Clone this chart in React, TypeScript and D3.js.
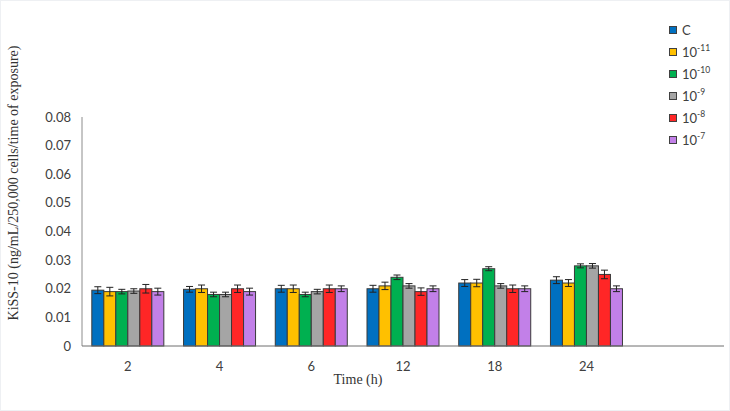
import React, { useEffect, useRef } from 'react';
import * as d3 from 'd3';

const times = ['2', '4', '6', '12', '18', '24', ''];
const groups = ['C', '-11', '-10', '-9', '-8', '-7'];
const colors = ['#0070C0', '#FFC000', '#00B050', '#A5A5A5', '#FF2626', '#C280E8'];

// mean per time point, one row per group
const means = [
  [0.0195, 0.0198, 0.0200, 0.0200, 0.0220, 0.0230],
  [0.0190, 0.0200, 0.0200, 0.0210, 0.0220, 0.0220],
  [0.0190, 0.0180, 0.0180, 0.0240, 0.0270, 0.0280],
  [0.0192, 0.0180, 0.0190, 0.0210, 0.0210, 0.0280],
  [0.0200, 0.0200, 0.0200, 0.0190, 0.0200, 0.0250],
  [0.0190, 0.0190, 0.0200, 0.0200, 0.0200, 0.0200],
];
const errors = [
  [0.0012, 0.0010, 0.0012, 0.0012, 0.0012, 0.0012],
  [0.0015, 0.0013, 0.0013, 0.0013, 0.0013, 0.0012],
  [0.0008, 0.0008, 0.0008, 0.0008, 0.0007, 0.0007],
  [0.0008, 0.0008, 0.0008, 0.0008, 0.0008, 0.0008],
  [0.0015, 0.0013, 0.0013, 0.0013, 0.0013, 0.0015],
  [0.0012, 0.0012, 0.0010, 0.0010, 0.0010, 0.0010],
];
const yTicks = [0, 0.01, 0.02, 0.03, 0.04, 0.05, 0.06, 0.07, 0.08];

const W = 730;
const H = 411;

export default function App() {
  const svgRef = useRef<SVGSVGElement>(null);

  useEffect(() => {
    document.body.style.margin = '0';
    if (!svgRef.current) return;
    const svg = d3.select(svgRef.current);
    svg.selectAll('*').remove();

    const left = 82, right = 724, top = 117, bottom = 346;
    const x0 = d3.scaleBand().domain(times.map((t, i) => i + ':' + t)).range([left, right]).paddingInner(0.215).paddingOuter(0.107);
    const x1 = d3.scaleBand().domain(groups).range([0, x0.bandwidth()]);
    const y = d3.scaleLinear().domain([0, 0.08]).range([bottom, top]);
    const font = 'Lato, "Noto Sans", sans-serif';
    const serif = '"Liberation Serif", "DejaVu Serif", serif';

    svg.append('rect').attr('width', W).attr('height', H).attr('fill', '#fff')
      .attr('stroke', '#eef0f3').attr('stroke-width', 2);

    // y tick labels
    svg.append('g').selectAll('text').data(yTicks).join('text')
      .attr('x', 71).attr('y', d => y(d)).attr('dy', '0.35em')
      .attr('text-anchor', 'end').attr('font-family', font).attr('font-size', 13)
      .attr('fill', '#404040').text(d => d === 0 ? '0' : d.toFixed(2));

    // bars
    const keys = x0.domain();
    groups.forEach((g, gi) => {
      const rows = means[gi].map((v, ti) => ({ v, e: errors[gi][ti], k: keys[ti] }));
      const gEl = svg.append('g');
      gEl.selectAll('rect').data(rows).join('rect')
        .attr('x', d => (x0(d.k) as number) + (x1(g) as number))
        .attr('y', d => y(d.v))
        .attr('width', x1.bandwidth())
        .attr('height', d => bottom - y(d.v))
        .attr('fill', colors[gi]).attr('stroke', '#3a3a3a').attr('stroke-width', 1);
      const eb = gEl.append('g').attr('stroke', '#222').attr('stroke-width', 1);
      rows.forEach(d => {
        const cx = (x0(d.k) as number) + (x1(g) as number) + x1.bandwidth() / 2;
        eb.append('line').attr('x1', cx).attr('x2', cx).attr('y1', y(d.v - d.e)).attr('y2', y(d.v + d.e));
        eb.append('line').attr('x1', cx - 3.5).attr('x2', cx + 3.5).attr('y1', y(d.v - d.e)).attr('y2', y(d.v - d.e));
        eb.append('line').attr('x1', cx - 3.5).attr('x2', cx + 3.5).attr('y1', y(d.v + d.e)).attr('y2', y(d.v + d.e));
      });
    });

    // axes lines
    svg.append('line').attr('x1', left).attr('x2', left).attr('y1', top).attr('y2', bottom)
      .attr('stroke', '#8c8c8c').attr('stroke-width', 1);
    svg.append('line').attr('x1', left).attr('x2', right).attr('y1', bottom).attr('y2', bottom)
      .attr('stroke', '#6e6e6e').attr('stroke-width', 1);

    // x tick labels
    svg.append('g').selectAll('text').data(keys).join('text')
      .attr('x', d => (x0(d) as number) + x0.bandwidth() / 2).attr('y', 366).attr('dy', '0.35em')
      .attr('text-anchor', 'middle').attr('font-family', font).attr('font-size', 13)
      .attr('fill', '#404040').text(d => d.split(':')[1]);

    // axis titles
    svg.append('text').attr('x', 358).attr('y', 384).attr('text-anchor', 'middle')
      .attr('font-family', serif).attr('font-size', 14).attr('fill', '#333').text('Time (h)');
    svg.append('text').attr('transform', 'translate(18,183) rotate(-90)').attr('text-anchor', 'middle')
      .attr('font-family', serif).attr('font-size', 14).attr('fill', '#333')
      .text('KiSS-10 (ng/mL/250,000 cells/time of exposure)');

    // legend
    const lg = svg.append('g');
    groups.forEach((g, i) => {
      const cy = 30 + i * 22;
      lg.append('rect').attr('x', 669.5).attr('y', cy - 3.5).attr('width', 7).attr('height', 7)
        .attr('fill', colors[i]).attr('stroke', '#404040').attr('stroke-width', 1);
      const t = lg.append('text').attr('x', 682).attr('y', cy).attr('dy', '0.4em')
        .attr('font-family', font).attr('font-size', 13).attr('fill', '#404040');
      if (g === 'C') {
        t.text('C');
      } else {
        t.append('tspan').text('10');
        t.append('tspan').attr('dy', -6).attr('font-size', 8.5).text(g);
      }
    });
  }, []);

  return <svg ref={svgRef} width={W} height={H} style={{ display: 'block' }} />;
}
